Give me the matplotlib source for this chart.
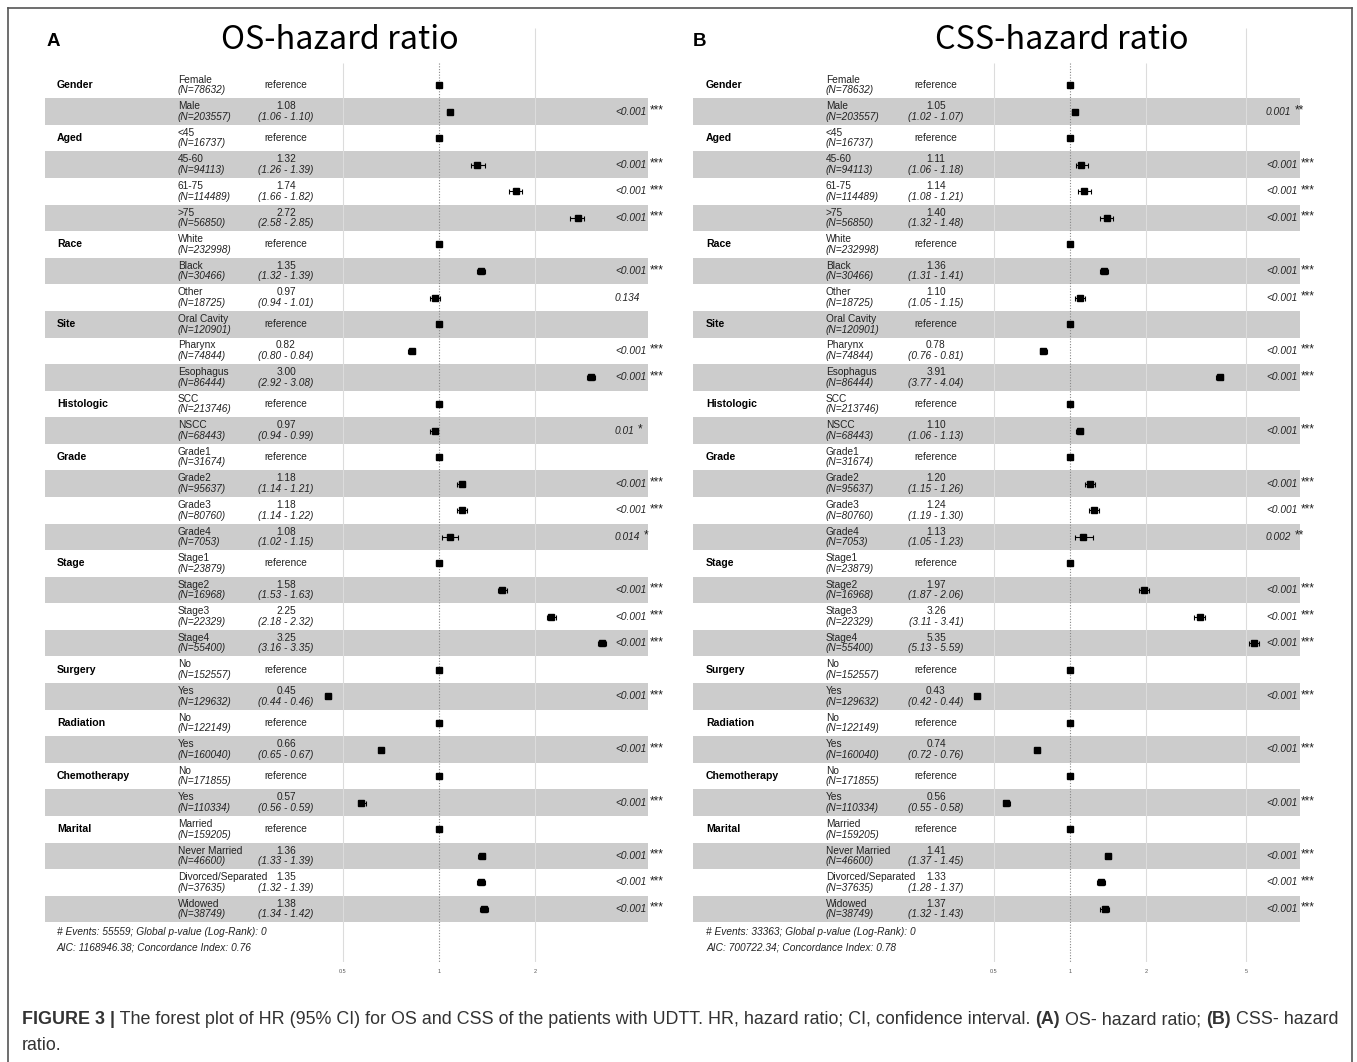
import matplotlib.pyplot as plt
import numpy as np
from matplotlib.ticker import NullLocator
from matplotlib.transforms import blended_transform_factory

plt.rcParams["font.family"] = ["Liberation Sans Narrow", "Liberation Sans", "DejaVu Sans"]

nan = np.nan

# table rows (shared by both panels)
variables = ["Gender", "", "Aged", "", "", "", "Race", "", "", "Site", "", "", "Histologic", "",
             "Grade", "", "", "", "Stage", "", "", "", "Surgery", "", "Radiation", "",
             "Chemotherapy", "", "Marital", "", "", ""]
levels = ["Female", "Male", "<45", "45-60", "61-75", ">75", "White", "Black", "Other",
          "Oral Cavity", "Pharynx", "Esophagus", "SCC", "NSCC", "Grade1", "Grade2", "Grade3",
          "Grade4", "Stage1", "Stage2", "Stage3", "Stage4", "No", "Yes", "No", "Yes", "No", "Yes",
          "Married", "Never Married", "Divorced/Separated", "Widowed"]
counts = [78632, 203557, 16737, 94113, 114489, 56850, 232998, 30466, 18725, 120901, 74844, 86444,
          213746, 68443, 31674, 95637, 80760, 7053, 23879, 16968, 22329, 55400, 152557, 129632,
          122149, 160040, 171855, 110334, 159205, 46600, 37635, 38749]

# A: OS
os_hr = [1.00, 1.08, 1.00, 1.32, 1.74, 2.72, 1.00, 1.35, 0.97, 1.00, 0.82, 3.00, 1.00, 0.97, 1.00, 1.18,
         1.18, 1.08, 1.00, 1.58, 2.25, 3.25, 1.00, 0.45, 1.00, 0.66, 1.00, 0.57, 1.00, 1.36, 1.35, 1.38]
os_lo = [nan, 1.06, nan, 1.26, 1.66, 2.58, nan, 1.32, 0.94, nan, 0.80, 2.92, nan, 0.94, nan, 1.14,
         1.14, 1.02, nan, 1.53, 2.18, 3.16, nan, 0.44, nan, 0.65, nan, 0.56, nan, 1.33, 1.32, 1.34]
os_hi = [nan, 1.10, nan, 1.39, 1.82, 2.85, nan, 1.39, 1.01, nan, 0.84, 3.08, nan, 0.99, nan, 1.21,
         1.22, 1.15, nan, 1.63, 2.32, 3.35, nan, 0.46, nan, 0.67, nan, 0.59, nan, 1.39, 1.39, 1.42]
os_p = ["", "<0.001", "", "<0.001", "<0.001", "<0.001", "", "<0.001", "0.134", "", "<0.001", "<0.001",
        "", "0.01", "", "<0.001", "<0.001", "0.014", "", "<0.001", "<0.001", "<0.001", "", "<0.001",
        "", "<0.001", "", "<0.001", "", "<0.001", "<0.001", "<0.001"]
os_stars = ["", "***", "", "***", "***", "***", "", "***", "", "", "***", "***", "", "*", "", "***",
            "***", "*", "", "***", "***", "***", "", "***", "", "***", "", "***", "", "***", "***", "***"]
os_notes = ["# Events: 55559; Global p-value (Log-Rank): 0", "AIC: 1168946.38; Concordance Index: 0.76"]

# B: CSS
css_hr = [1.00, 1.05, 1.00, 1.11, 1.14, 1.40, 1.00, 1.36, 1.10, 1.00, 0.78, 3.91, 1.00, 1.10, 1.00, 1.20,
          1.24, 1.13, 1.00, 1.97, 3.26, 5.35, 1.00, 0.43, 1.00, 0.74, 1.00, 0.56, 1.00, 1.41, 1.33, 1.37]
css_lo = [nan, 1.02, nan, 1.06, 1.08, 1.32, nan, 1.31, 1.05, nan, 0.76, 3.77, nan, 1.06, nan, 1.15,
          1.19, 1.05, nan, 1.87, 3.11, 5.13, nan, 0.42, nan, 0.72, nan, 0.55, nan, 1.37, 1.28, 1.32]
css_hi = [nan, 1.07, nan, 1.18, 1.21, 1.48, nan, 1.41, 1.15, nan, 0.81, 4.04, nan, 1.13, nan, 1.26,
          1.30, 1.23, nan, 2.06, 3.41, 5.59, nan, 0.44, nan, 0.76, nan, 0.58, nan, 1.45, 1.37, 1.43]
css_p = ["", "0.001", "", "<0.001", "<0.001", "<0.001", "", "<0.001", "<0.001", "", "<0.001", "<0.001",
         "", "<0.001", "", "<0.001", "<0.001", "0.002", "", "<0.001", "<0.001", "<0.001", "", "<0.001",
         "", "<0.001", "", "<0.001", "", "<0.001", "<0.001", "<0.001"]
css_stars = ["", "**", "", "***", "***", "***", "", "***", "***", "", "***", "***", "", "***", "", "***",
             "***", "**", "", "***", "***", "***", "", "***", "", "***", "", "***", "", "***", "***", "***"]
css_notes = ["# Events: 33363; Global p-value (Log-Rank): 0", "AIC: 700722.34; Concordance Index: 0.78"]

W, H = 1357, 1062
ROW0, ROW_H = 85, 26.58
TOP, BOTTOM = 28, 962

fig = plt.figure(figsize=(W / 100, H / 100), dpi=100)
cv = fig.add_axes([0, 0, 1, 1])
cv.set_xlim(0, W)
cv.set_ylim(H, 0)
cv.axis("off")
cv.set_zorder(10)


def px_axes(x0, y0, x1, y1):
    return fig.add_axes([x0 / W, 1 - y1 / H, (x1 - x0) / W, (y1 - y0) / H])


def draw_panel(sp, hr, lo, hi, pvals, stars, notes):
    hr, lo, hi = np.array(hr), np.array(lo), np.array(hi)
    rows = np.arange(len(levels))
    fa = px_axes(sp["left"], TOP, sp["right"], BOTTOM)
    fa.set_xscale("log", base=2)
    fa.set_xlim(2 ** ((sp["left"] - sp["x1"]) / sp["ppd"]), 2 ** ((sp["right"] - sp["x1"]) / sp["ppd"]))
    y_bot = (BOTTOM - ROW0) / ROW_H
    y_top = (TOP - ROW0) / ROW_H
    fa.set_ylim(y_bot, y_top)
    fa.patch.set_alpha(0)
    for s in fa.spines.values():
        s.set_visible(False)
    fa.set_yticks([])
    fa.set_xticks(sp["ticks"])
    fa.set_xticklabels([f"{t:g}" for t in sp["ticks"]])
    fa.xaxis.set_minor_locator(NullLocator())
    fa.tick_params(axis="x", length=0, labelsize=4, colors="#555555", pad=5)

    # zebra bands
    for r in rows[1::2]:
        fa.axhspan(r - 0.5, r + 0.5, color="#cccccc", lw=0, zorder=0)

    # grid
    grid_top = (63 - ROW0) / ROW_H
    for t in sp["ticks"]:
        if t == 1:
            continue
        top = y_top if t == sp["ticks"][-1] else grid_top
        fa.vlines(t, top, y_bot, color="#dcdcdc", lw=0.8, zorder=1)
    fa.vlines(1, grid_top, y_bot, color="#888888", lw=0.8, ls=(0, (1, 1.5)), zorder=1)

    ref = np.isnan(lo)
    fa.errorbar(hr[~ref], rows[~ref], xerr=[hr[~ref] - lo[~ref], hi[~ref] - hr[~ref]],
                fmt="s", color="black", ms=5, elinewidth=0.8, capsize=1.8, capthick=0.8, zorder=3)
    fa.plot(hr[ref], rows[ref], "s", color="black", ms=5, zorder=3)

    tr = blended_transform_factory(cv.transData, fa.transData)
    fs = 7.3
    for i in rows:
        if variables[i]:
            cv.text(sp["c_var"], i, variables[i], transform=tr, fontsize=fs + 0.3, fontweight="bold",
                    ha="left", va="center")
        cv.text(sp["c_lvl"], i - 0.2, levels[i], transform=tr, fontsize=fs, ha="left", va="center",
                color="#222222")
        cv.text(sp["c_lvl"], i + 0.2, f"(N={counts[i]})", transform=tr, fontsize=fs, ha="left",
                va="center", style="italic", color="#222222")
        if ref[i]:
            cv.text(sp["c_est"], i, "reference", transform=tr, fontsize=fs, ha="center", va="center",
                    color="#222222")
        else:
            cv.text(sp["c_est"], i - 0.2, f"{hr[i]:.2f}", transform=tr, fontsize=fs, ha="center",
                    va="center", color="#222222")
            cv.text(sp["c_est"], i + 0.2, f"({lo[i]:.2f} - {hi[i]:.2f})", transform=tr, fontsize=fs,
                    ha="center", va="center", style="italic", color="#222222")
        if pvals[i]:
            pt = cv.text(sp["c_p"], i, pvals[i], transform=tr, fontsize=fs, ha="left", va="center",
                         style="italic", color="#222222")
            if stars[i]:
                cv.annotate(stars[i], xy=(1, 1), xycoords=pt, xytext=(2.5, 1.5), textcoords="offset points",
                            fontsize=8.5, ha="left", va="top", color="#222222")

    for k, note in enumerate(notes):
        cv.text(sp["c_var"], 932 + 15 * k, note, fontsize=fs, style="italic", ha="left", va="center",
                color="#222222")

    cv.text(sp["title_x"], 40, sp["title"], fontsize=23.3, ha="center", va="center",
            family=["Noto Sans CJK SC", "DejaVu Sans"])
    cv.text(sp["letter_x"], 42, sp["letter"], fontsize=13.5, fontweight="bold", ha="left", va="center",
            family=["Liberation Sans", "DejaVu Sans"])


panel_a = dict(left=45, right=648, x1=439, ppd=96, ticks=[0.5, 1, 2], c_var=57, c_lvl=178, c_est=286,
               c_p=615, title="OS-hazard ratio", title_x=340, letter="A", letter_x=47)
panel_b = dict(left=693, right=1300, x1=1070, ppd=76, ticks=[0.5, 1, 2, 5], c_var=706, c_lvl=826,
               c_est=936, c_p=1266, title="CSS-hazard ratio", title_x=1062, letter="B", letter_x=693)

draw_panel(panel_a, os_hr, os_lo, os_hi, os_p, os_stars, os_notes)
draw_panel(panel_b, css_hr, css_lo, css_hi, css_p, css_stars, css_notes)

# frame
cv.plot([8, 1352], [8, 8], color="#555555", lw=1.2)
cv.plot([8, 8], [8, H], color="#555555", lw=1.2)
cv.plot([1352, 1352], [8, H], color="#555555", lw=1.2)

# caption
cap_kw = dict(fontsize=12.85, family=["Liberation Sans", "DejaVu Sans"], color="#333333")
pieces = [("FIGURE 3 |", "bold"),
          (" The forest plot of HR (95% CI) for OS and CSS of the patients with UDTT. HR, hazard ratio; "
           "CI, confidence interval. ", "normal"),
          ("(A)", "bold"), (" OS- hazard ratio; ", "normal"), ("(B)", "bold"), (" CSS- hazard", "normal")]
prev = None
for txt, wt in pieces:
    if prev is None:
        prev = cv.text(22, 1020, txt, fontweight=wt, ha="left", va="center", **cap_kw)
    else:
        prev = cv.annotate(txt, xy=(1, 0), xycoords=prev, ha="left", va="bottom", fontweight=wt, **cap_kw)
cv.text(22, 1046, "ratio.", ha="left", va="center", **cap_kw)

fig.savefig("out.png", dpi=100)
